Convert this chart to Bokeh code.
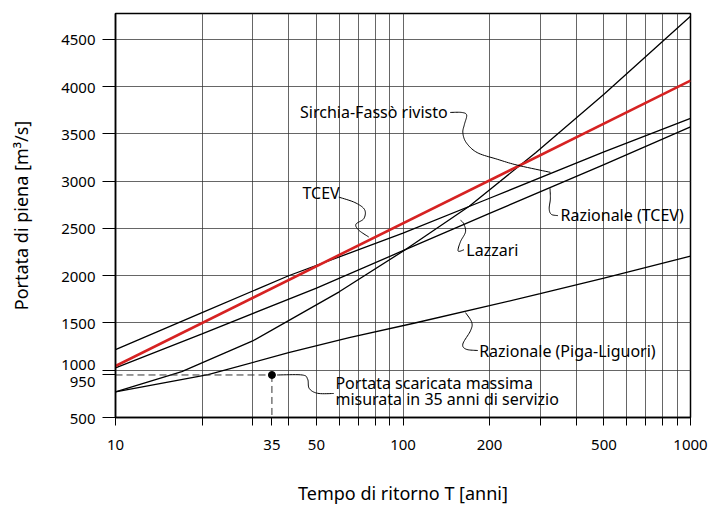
import numpy as np
from bokeh.plotting import figure
from bokeh.models import FixedTicker, Label, Range1d
from bokeh.embed import file_html
from bokeh.resources import INLINE

# ---------------- data ----------------
# Return period T [years] and flood discharge Q [m3/s]
T_tcev = [10, 1000]
Q_tcev = [1045, 4065]

T_sirchia = [10, 20, 40, 100, 200, 500, 1000]
Q_sirchia = [1218, 1610, 2000, 2450, 2820, 3310, 3665]

T_raz_tcev = [10, 20, 50, 100, 200, 500, 1000]
Q_raz_tcev = [1025, 1385, 1870, 2265, 2660, 3175, 3575]

T_lazzari = [10, 17, 30, 40, 60, 100, 170, 290, 500, 1000]
Q_lazzari = [770, 985, 1310, 1525, 1830, 2260, 2735, 3305, 3920, 4745]

T_piga = [10, 21, 40, 65, 110, 200, 300, 500, 1000]
Q_piga = [770, 953, 1186, 1346, 1500, 1683, 1810, 1975, 2207]

T_obs = [35]
Q_obs = [950]

x_ticks = [10, 20, 30, 35, 40, 50, 60, 70, 80, 90, 100,
           200, 300, 400, 500, 600, 700, 800, 900, 1000]
x_labels = {10: "10", 35: "35", 50: "50", 100: "100", 200: "200", 500: "500", 1000: "1000"}
x_grid = [20, 30, 40, 50, 60, 70, 80, 90, 100, 200, 300, 400, 500, 600, 700, 800, 900]
y_ticks = [500, 950, 1000, 1500, 2000, 2500, 3000, 3500, 4000, 4500]
y_labels = {950: " \n950", 1000: "1000\n "}
y_grid = [1000, 1500, 2000, 2500, 3000, 3500, 4000, 4500]

# annotation texts with anchor (T, Q)
labels = [
    ("Sirchia-Fassò rivisto", 143, 3728, "right"),
    ("TCEV", 44.7, 2877, "left"),
    ("Razionale (TCEV)", 353, 2641, "left"),
    ("Lazzari", 166, 2275, "left"),
    ("Razionale (Piga-Liguori)", 184, 1202, "left"),
    ("Portata scaricata massima", 58.2, 866, "left"),
    ("misurata in 35 anni di servizio", 58.2, 694, "left"),
]
# leader lines through anchor points (T, Q)
leaders = [
    ([146, 160, 166.5, 163.5, 161.5, 166, 181.2, 212.7, 250, 325.9],
     [3728, 3728, 3700, 3600, 3513, 3408, 3303, 3233, 3170, 3094]),
    ([59.8, 68.0, 73.5, 73.1, 68.6, 70.2, 76.0],
     [2832, 2775, 2700, 2605, 2545, 2482, 2410]),
    ([346, 328, 322.5, 325.5, 324.6],
     [2636, 2650, 2709, 2814, 2925]),
    ([163, 155.5, 158.5, 165, 162.5, 158.5],
     [2275, 2262, 2361, 2465, 2552, 2587]),
    ([182, 166, 161.5, 171.7, 173.5, 165],
     [1209, 1222, 1278, 1418, 1505, 1610]),
    ([36.5, 44.6, 46.6, 47.2, 50.5, 57.4],
     [950, 950, 905, 807, 756, 754]),
]


def smooth(ts, qs, n=10):
    """Catmull-Rom curve through the anchor points (log-T space)."""
    pts = np.column_stack([np.log10(ts), np.asarray(qs, float)])
    P = np.vstack([pts[0], pts, pts[-1]])
    out = []
    for i in range(1, len(P) - 2):
        p0, p1, p2, p3 = P[i - 1], P[i], P[i + 1], P[i + 2]
        for t in np.linspace(0, 1, n, endpoint=False):
            t2, t3 = t * t, t * t * t
            out.append(0.5 * (2 * p1 + (-p0 + p2) * t
                              + (2 * p0 - 5 * p1 + 4 * p2 - p3) * t2
                              + (-p0 + 3 * p1 - 3 * p2 + p3) * t3))
    out.append(P[-2])
    out = np.array(out)
    return 10 ** out[:, 0], out[:, 1]


FONT = "Noto Sans"

p = figure(width=715, height=507, x_axis_type="log",
           x_range=Range1d(10, 1000), y_range=Range1d(500, 4775),
           output_backend="svg", toolbar_location=None,
           min_border_left=115, min_border_right=25,
           min_border_top=13, min_border_bottom=86)

p.outline_line_color = "black"
p.outline_line_width = 1.5
p.background_fill_color = "white"

# grid
p.xgrid.ticker = FixedTicker(ticks=x_grid)
p.ygrid.ticker = FixedTicker(ticks=y_grid)
for g in (p.xgrid, p.ygrid):
    g.grid_line_color = "#333333"
    g.grid_line_alpha = 0.75
    g.grid_line_width = 1

# axes
p.xaxis.ticker = FixedTicker(ticks=x_ticks)
p.xaxis.major_label_overrides = {t: x_labels.get(t, "") for t in x_ticks}
p.yaxis.ticker = FixedTicker(ticks=y_ticks)
p.yaxis.major_label_overrides = y_labels
p.yaxis.major_label_text_line_height = 0.62
for ax in (p.xaxis, p.yaxis):
    ax.axis_line_color = "black"
    ax.axis_line_width = 1.5
    ax.major_tick_line_color = "black"
    ax.major_tick_line_width = 1
    ax.major_tick_in = 0
    ax.minor_tick_line_color = None
    ax.major_label_text_font = FONT
    ax.major_label_text_font_size = "15px"
    ax.major_label_text_color = "black"
    ax.axis_label_text_font = FONT
    ax.axis_label_text_font_size = "18px"
    ax.axis_label_text_font_style = "normal"
    ax.axis_label_text_color = "black"
p.xaxis.major_tick_out = 8
p.yaxis.major_tick_out = 13
p.xaxis.major_label_standoff = 14
p.yaxis.major_label_standoff = 7
p.xaxis.axis_label = "Tempo di ritorno T [anni]"
p.yaxis.axis_label = "Portata di piena [m³/s]"
p.xaxis.axis_label_standoff = 28
p.yaxis.axis_label_standoff = 25

# curves
p.line(T_piga, Q_piga, line_color="black", line_width=1.3)
p.line(T_lazzari, Q_lazzari, line_color="black", line_width=1.3)
p.line(T_raz_tcev, Q_raz_tcev, line_color="black", line_width=1.3)
p.line(T_sirchia, Q_sirchia, line_color="black", line_width=1.3)
p.line(T_tcev, Q_tcev, line_color="#d62222", line_width=2.6)

# observed maximum
p.line([10, T_obs[0]], [Q_obs[0], Q_obs[0]], line_color="#333333",
       line_width=1, line_dash="7 4")
p.line([T_obs[0], T_obs[0]], [Q_obs[0], 500], line_color="#333333",
       line_width=1, line_dash="7 4")
p.scatter(T_obs, Q_obs, size=7, color="black")

# leaders
for lx, ly in leaders:
    sx, sy = smooth(lx, ly)
    p.line(sx, sy, line_color="black", line_width=1)

for txt, xv, yv, al in labels:
    p.add_layout(Label(x=xv, y=yv, text=txt, text_align=al,
                       text_baseline="middle", text_font=FONT,
                       text_font_size="16px", text_color="black"))

open("out.html", "w").write(file_html(p, INLINE))
